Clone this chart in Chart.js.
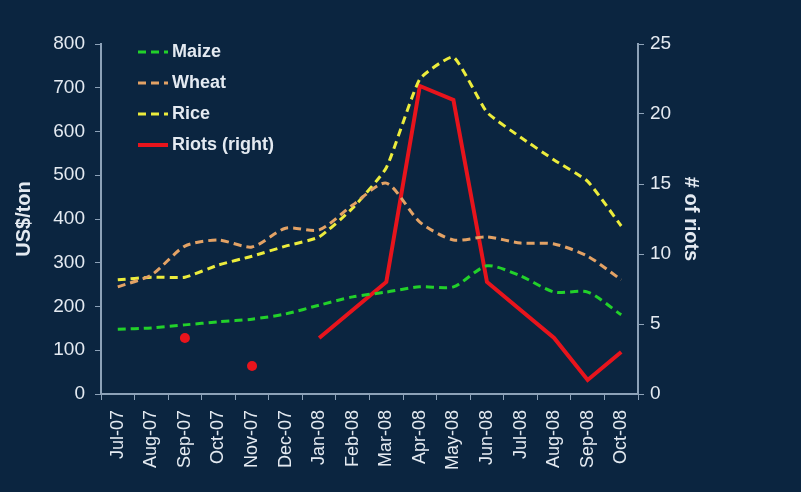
<!DOCTYPE html>
<html>
<head>
<meta charset="utf-8">
<script src="https://cdn.jsdelivr.net/npm/chart.js@4"></script>
<style>
  html, body { margin: 0; padding: 0; background: #0b2540; }
  #wrap { width: 801px; height: 492px; }
</style>
</head>
<body>
<div id="wrap"><canvas id="chart" width="801" height="492"></canvas></div>
<script>
const months = ['Jul-07', 'Aug-07', 'Sep-07', 'Oct-07', 'Nov-07', 'Dec-07', 'Jan-08', 'Feb-08',
    'Mar-08', 'Apr-08', 'May-08', 'Jun-08', 'Jul-08', 'Aug-08', 'Sep-08', 'Oct-08'];
const maize = [148, 151, 158, 165, 171, 183, 203, 222, 233, 245, 245, 293, 270, 233, 233, 181];
const wheat = [245, 272, 338, 352, 336, 379, 375, 432, 482, 393, 352, 359, 345, 343, 315, 261];
const rice = [261, 267, 267, 295, 315, 338, 359, 425, 517, 720, 770, 644, 587, 535, 486, 384];
const riots = [null, null, 4, null, 2, null, 4, 6, 8, 22, 21, 8, 6, 4, 1, 3];

const textColor = '#e4eaf1';
const axisColor = '#8da2b8';
const fontFamily = '"Liberation Sans", Arial, sans-serif';

// only lone riot counts get a dot, the rest is a plain line
function lonePoint(c) {
    const d = c.dataset.data;
    const i = c.dataIndex;
    if (d[i] == null) return 0;
    return (d[i - 1] == null && d[i + 1] == null) ? 5 : 0;
}

// legend drawn inside the plot, top left
const insideLegend = {
    id: 'insideLegend',
    afterDraw(chart) {
        const ctx = chart.ctx;
        const x0 = chart.chartArea.left + 37;
        ctx.save();
        chart.data.datasets.forEach((ds, i) => {
            const y = chart.chartArea.top + 8 + i * 31;
            ctx.beginPath();
            ctx.strokeStyle = ds.borderColor;
            ctx.lineWidth = ds.borderWidth;
            ctx.setLineDash(ds.borderDash || []);
            ctx.moveTo(x0, y);
            ctx.lineTo(x0 + 30, y);
            ctx.stroke();
            ctx.setLineDash([]);
            ctx.fillStyle = textColor;
            ctx.font = 'bold 18px ' + fontFamily;
            ctx.textBaseline = 'middle';
            ctx.fillText(ds.label, x0 + 34, y);
        });
        ctx.restore();
    }
};

new Chart(document.querySelector('#chart'), {
    type: 'line',
    data: {
        labels: months,
        datasets: [
            {
                label: 'Maize',
                data: maize,
                borderColor: '#22d12a',
                borderWidth: 3,
                borderDash: [8, 5],
                pointRadius: 0,
                tension: 0.25,
                yAxisID: 'y'
            },
            {
                label: 'Wheat',
                data: wheat,
                borderColor: '#e3a265',
                borderWidth: 3,
                borderDash: [8, 5],
                pointRadius: 0,
                tension: 0.25,
                yAxisID: 'y'
            },
            {
                label: 'Rice',
                data: rice,
                borderColor: '#ecec3c',
                borderWidth: 3,
                borderDash: [8, 5],
                pointRadius: 0,
                tension: 0.15,
                yAxisID: 'y'
            },
            {
                label: 'Riots (right)',
                data: riots,
                borderColor: '#e8141c',
                backgroundColor: '#e8141c',
                borderWidth: 4,
                pointRadius: lonePoint,
                pointBorderWidth: 0,
                tension: 0,
                spanGaps: false,
                yAxisID: 'y1'
            }
        ]
    },
    options: {
        responsive: false,
        animation: false,
        layout: { padding: { top: 44, left: 0, right: 0, bottom: 0 } },
        plugins: {
            legend: { display: false },
            tooltip: { enabled: false }
        },
        scales: {
            x: {
                offset: true,
                grid: { display: true, offset: true, drawOnChartArea: false, color: axisColor, tickLength: 6 },
                border: { color: axisColor, width: 2 },
                ticks: {
                    color: textColor,
                    font: { size: 18, family: fontFamily },
                    minRotation: 90,
                    maxRotation: 90,
                    autoSkip: false,
                    padding: 10
                },
                afterFit(s) { s.height = 98; }
            },
            y: {
                position: 'left',
                min: 0,
                max: 800,
                grid: { display: true, drawOnChartArea: false, color: axisColor, tickLength: 6 },
                border: { color: axisColor, width: 2 },
                ticks: {
                    stepSize: 100,
                    color: textColor,
                    font: { size: 19, family: fontFamily },
                    padding: 10
                },
                title: {
                    display: true,
                    text: 'US$/ton',
                    color: textColor,
                    font: { size: 20, weight: 'bold', family: fontFamily },
                    padding: { top: 12, bottom: 4 }
                },
                afterFit(s) { s.width = 101; }
            },
            y1: {
                position: 'right',
                min: 0,
                max: 25,
                grid: { display: true, drawOnChartArea: false, color: axisColor, tickLength: 6 },
                border: { color: axisColor, width: 2 },
                ticks: {
                    stepSize: 5,
                    color: textColor,
                    font: { size: 19, family: fontFamily },
                    padding: 6
                },
                title: {
                    display: true,
                    text: '# of riots',
                    color: textColor,
                    font: { size: 20, weight: 'bold', family: fontFamily },
                    padding: { top: 98, bottom: 4 }
                },
                afterFit(s) { s.width = 163; }
            }
        }
    },
    plugins: [insideLegend]
});
</script>
</body>
</html>
